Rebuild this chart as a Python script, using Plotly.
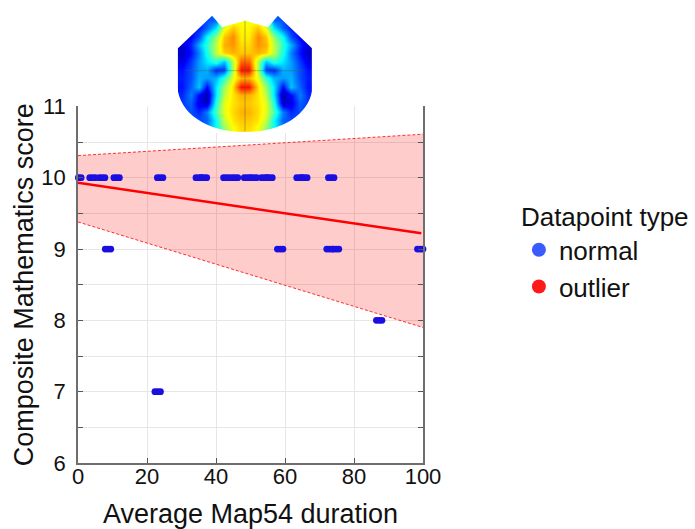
import plotly.graph_objects as go

# ---------------- data ----------------
normal_x = [0.1, 4.2, 7.0, 11.2, 23.8, 35.0, 36.5, 43.0, 45.5, 49.0, 51.0, 54.0, 55.5,
            64.2, 65.6, 73.4,
            8.7, 58.6, 72.9, 74.8, 99.2,
            87.3,
            23.1]
normal_y = [10, 10, 10, 10, 10, 10, 10, 10, 10, 10, 10, 10, 10,
            10, 10, 10,
            9, 9, 9, 9, 9,
            8,
            7]

fit_x = [0, 99.5]
fit_y = [9.93, 9.22]

band_x = [0, 100]
band_lower = [9.38, 7.90]
band_upper = [10.31, 10.61]

x_ticks = [0, 20, 40, 60, 80, 100]
y_ticks = [6, 7, 8, 9, 10, 11]

legend_names = ["normal", "outlier"]
legend_colors = ["#3a5cff", "#ff1a1a"]

# decorative topographic map (hand-read colour levels, 0..1 on a jet scale)
brain_z = [
    [0.15, 0.15, 0.18, 0.2, 0.22, 0.5, 0.6, 0.62, 0.62, 0.6, 0.5, 0.22, 0.2, 0.18, 0.15, 0.15],
    [0.12, 0.14, 0.15, 0.22, 0.35, 0.6, 0.68, 0.63, 0.63, 0.68, 0.6, 0.35, 0.22, 0.15, 0.14, 0.12],
    [0.1, 0.12, 0.2, 0.38, 0.52, 0.68, 0.74, 0.64, 0.64, 0.74, 0.68, 0.52, 0.38, 0.2, 0.12, 0.1],
    [0.08, 0.16, 0.3, 0.42, 0.56, 0.7, 0.73, 0.66, 0.66, 0.73, 0.7, 0.56, 0.42, 0.3, 0.16, 0.08],
    [0.06, 0.14, 0.25, 0.4, 0.56, 0.67, 0.7, 0.68, 0.68, 0.7, 0.67, 0.56, 0.4, 0.25, 0.14, 0.06],
    [0.1, 0.18, 0.28, 0.35, 0.42, 0.3, 0.55, 0.78, 0.78, 0.55, 0.3, 0.42, 0.35, 0.28, 0.18, 0.1],
    [0.14, 0.2, 0.28, 0.3, 0.16, 0.18, 0.55, 0.86, 0.86, 0.55, 0.18, 0.16, 0.3, 0.28, 0.2, 0.14],
    [0.15, 0.2, 0.3, 0.28, 0.3, 0.42, 0.6, 0.7, 0.7, 0.6, 0.42, 0.3, 0.28, 0.3, 0.2, 0.15],
    [0.14, 0.22, 0.32, 0.13, 0.35, 0.52, 0.66, 0.86, 0.86, 0.66, 0.52, 0.35, 0.13, 0.32, 0.22, 0.14],
    [0.16, 0.25, 0.13, 0.03, 0.35, 0.56, 0.65, 0.7, 0.7, 0.65, 0.56, 0.35, 0.03, 0.13, 0.25, 0.16],
    [0.18, 0.22, 0.1, 0.06, 0.4, 0.6, 0.65, 0.68, 0.68, 0.65, 0.6, 0.4, 0.06, 0.1, 0.22, 0.18],
    [0.18, 0.2, 0.16, 0.25, 0.45, 0.6, 0.66, 0.7, 0.7, 0.66, 0.6, 0.45, 0.25, 0.16, 0.2, 0.18],
    [0.18, 0.2, 0.2, 0.22, 0.38, 0.57, 0.65, 0.68, 0.68, 0.65, 0.57, 0.38, 0.22, 0.2, 0.2, 0.18],
    [0.2, 0.2, 0.22, 0.25, 0.38, 0.52, 0.62, 0.66, 0.66, 0.62, 0.52, 0.38, 0.25, 0.22, 0.2, 0.2],
]
# outline of the head map in the map's own cell coordinates (decoration only)
brain_outline = ("M -0.55 3.45 L 3.58 -0.5 L 4.76 0.89 L 7.5 0.09 L 10.24 0.89 L 11.42 -0.5 "
                 "L 15.55 3.45 L 15.55 8.0 C 15.4 11.2 12.0 13.5 7.5 13.5 "
                 "C 3.0 13.5 -0.4 11.2 -0.55 8.0 Z")
brain_box = "M -0.6 -0.6 L 15.6 -0.6 L 15.6 13.6 L -0.6 13.6 Z "

FONT = "Liberation Sans, Arial, Helvetica, sans-serif"

fig = go.Figure()

# confidence band
fig.add_trace(go.Scatter(x=band_x, y=band_lower, mode="lines",
                         line=dict(color="rgba(255,0,0,0.8)", width=1, dash="3px,2px"),
                         showlegend=False, hoverinfo="skip"))
fig.add_trace(go.Scatter(x=band_x, y=band_upper, mode="lines", fill="tonexty",
                         fillcolor="rgba(255,0,0,0.2)",
                         line=dict(color="rgba(255,0,0,0.8)", width=1, dash="3px,2px"),
                         showlegend=False, hoverinfo="skip"))
# fit line
fig.add_trace(go.Scatter(x=fit_x, y=fit_y, mode="lines",
                         line=dict(color="#ff0000", width=2.5),
                         showlegend=False, hoverinfo="skip"))

# points (drawn as horizontally stretched dots)
off = 0.8
px_ = [v + d for d in (-off, 0, off) for v in normal_x]
py_ = [v for d in (-off, 0, off) for v in normal_y]
fig.add_trace(go.Scatter(x=px_, y=py_, mode="markers", cliponaxis=False,
                         marker=dict(size=6.8, color="#1a0fe0", line=dict(width=0)),
                         showlegend=False))

# legend entries
for name, col in zip(legend_names, legend_colors):
    fig.add_trace(go.Scatter(x=[None], y=[None], mode="markers", name=name,
                             marker=dict(size=14, color=col)))

# topographic map
fig.add_trace(go.Heatmap(z=brain_z, x=list(range(16)), y=list(range(14)),
                         xaxis="x2", yaxis="y2", zmin=0, zmax=1, zsmooth="best",
                         showscale=False, hoverinfo="skip",
                         colorscale=[[0, "#00008f"], [0.125, "#0000ff"], [0.375, "#00ffff"],
                                     [0.625, "#ffff00"], [0.875, "#ff0000"], [1, "#800000"]]))

# white mask outside the head outline + faint guide lines
fig.add_shape(type="path", xref="x2", yref="y2", path=brain_box + brain_outline,
              fillcolor="white", fillrule="evenodd", line=dict(width=0), layer="above")
fig.add_shape(type="line", xref="x2", yref="y2", x0=7.5, x1=7.5, y0=0.1, y1=13.4,
              line=dict(color="rgba(90,90,60,0.45)", width=1), layer="above")
fig.add_shape(type="line", xref="x2", yref="y2", x0=0.5, x1=14.5, y0=6.1, y1=6.1,
              line=dict(color="rgba(90,90,60,0.35)", width=1), layer="above")

axis_common = dict(
    showline=True, linecolor="#6e6e6e", linewidth=1.5,
    gridcolor="#e6e6e6", gridwidth=1,
    ticks="inside", ticklen=5, tickcolor="#555555", tickwidth=1,
    tickfont=dict(family=FONT, size=22, color="#111111"),
    zeroline=False, automargin=False,
)

fig.update_layout(
    width=695, height=529,
    margin=dict(l=78, r=272, t=10, b=66, autoexpand=False),
    paper_bgcolor="white", plot_bgcolor="white",
    font=dict(family=FONT, color="#111111"),
    xaxis=dict(range=[0, 100], tickvals=x_ticks, domain=[0, 1], anchor="y",
               ticklabelstandoff=-7,
               title=dict(text="Average Map54 duration", font=dict(size=27, family=FONT),
                          standoff=27),
               **axis_common),
    yaxis=dict(range=[6, 11], tickvals=y_ticks, domain=[0, 0.7872], anchor="x",
               mirror="ticks", ticklabelstandoff=6,
               minor=dict(dtick=0.5, showgrid=True, gridcolor="#e6e6e6",
                          ticks="inside", ticklen=5, tickcolor="#555555"),
               title=dict(text="Composite Mathematics score", font=dict(size=27, family=FONT),
                          standoff=0),
               **axis_common),
    xaxis2=dict(domain=[0.287, 0.681], range=[-0.6, 15.6], visible=False, anchor="y2"),
    yaxis2=dict(domain=[0.7285, 0.989], range=[13.6, -0.6], visible=False, anchor="x2"),
    legend=dict(x=1.278, y=0.597, xanchor="left", yanchor="top", traceorder="normal",
                title=dict(text="Datapoint type", font=dict(size=26, family=FONT)),
                font=dict(size=26, family=FONT), itemwidth=30,
                bgcolor="rgba(0,0,0,0)"),
)

fig.write_html("out.html")
